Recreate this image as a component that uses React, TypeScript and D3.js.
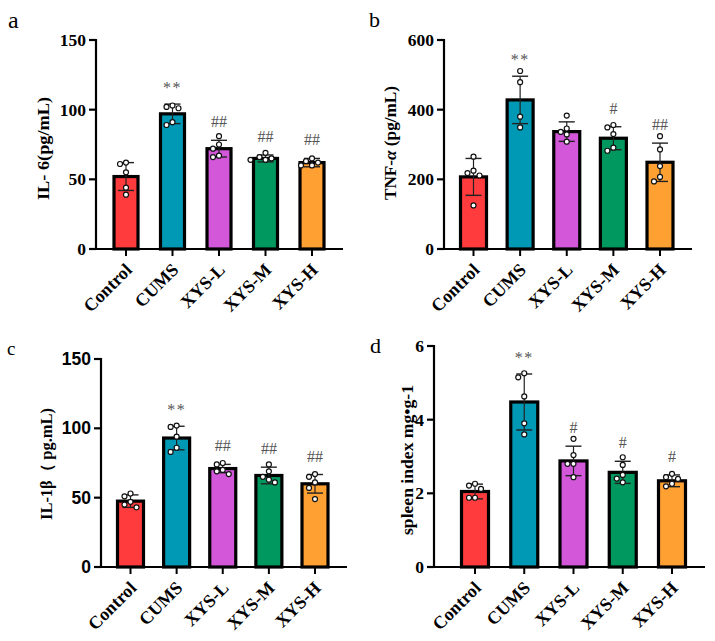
import React from "react";
import * as d3 from "d3";

const groups = ["Control", "CUMS", "XYS-L", "XYS-M", "XYS-H"];
const groupColors = ["#FF3B3D", "#0099B5", "#D357D9", "#00985F", "#FFA033"];

// a: IL-6 (pg/mL)
const il6Mean = [52, 97, 72, 65, 62];
const il6Sd = [10, 7, 6, 2.5, 3];
const il6Points = [
  [62, 61, 55, 44, 39],
  [103, 102, 101, 91, 89],
  [81, 75, 72, 67, 66],
  [69, 66, 65, 64, 64],
  [65, 63, 62, 60, 60],
];
const il6Marks = ["", "**", "##", "##", "##"];
const il6Ticks = [0, 50, 100, 150];

// b: TNF-α (pg/mL)
const tnfMean = [207, 428, 337, 318, 249];
const tnfSd = [53, 68, 28, 33, 55];
const tnfPoints = [
  [265, 225, 218, 211, 125],
  [511, 479, 380, 349],
  [383, 346, 336, 329, 308],
  [356, 349, 330, 291, 282],
  [324, 286, 238, 207, 194],
];
const tnfMarks = ["", "**", "", "#", "##"];
const tnfTicks = [0, 200, 400, 600];

// c: IL-1β (pg/mL)
const il1Mean = [47.5, 93, 71, 66, 60];
const il1Sd = [4.5, 8.5, 3, 6, 6.7];
const il1Points = [
  [53, 51, 47, 45, 43],
  [102, 101, 94, 86, 83],
  [75, 74, 70, 69, 67],
  [74, 69, 65, 63, 61],
  [67, 65, 61, 57, 49],
];
const il1Marks = ["", "**", "##", "##", "##"];
const il1Ticks = [0, 50, 100, 150];

// d: spleen index
const spleenMean = [2.05, 4.48, 2.88, 2.57, 2.34];
const spleenSd = [0.2, 0.76, 0.4, 0.3, 0.16];
const spleenPoints = [
  [2.26, 2.21, 2.12, 1.88, 1.88],
  [5.26, 5.15, 4.63, 3.9, 3.6],
  [3.48, 3.04, 2.8, 2.8, 2.44],
  [2.98, 2.77, 2.5, 2.4, 2.3],
  [2.53, 2.44, 2.39, 2.26, 2.19],
];
const spleenMarks = ["", "**", "#", "#", "#"];
const spleenTicks = [0, 2, 4, 6];

const SERIF = "'Liberation Serif', 'Times New Roman', serif";
const SANS = "'Liberation Sans', Arial, sans-serif";

// labelPos = start of the rotated axis title (its bottom end)
const panels = [
  {
    letter: "a", label: "IL- 6(pg/mL)", mean: il6Mean, sd: il6Sd, points: il6Points,
    marks: il6Marks, ticks: il6Ticks,
    axisX: 96, endX: 343, c0: 126, c1: 312, top: 40, bottom: 249, barW: 24,
    letterPos: [8, 28], letterSize: 24, labelPos: [43, 200], labelSize: 17.5, labelLen: 103, tickFont: SERIF,
  },
  {
    letter: "b", label: "TNF-α (pg/mL)", mean: tnfMean, sd: tnfSd, points: tnfPoints,
    marks: tnfMarks, ticks: tnfTicks,
    axisX: 444, endX: 692, c0: 473.5, c1: 660, top: 40, bottom: 249, barW: 26,
    letterPos: [369, 27], letterSize: 22, labelPos: [390, 200], labelSize: 17.5, labelLen: 114, tickFont: SERIF,
  },
  {
    letter: "c", label: "IL-1β（ pg.mL)", mean: il1Mean, sd: il1Sd, points: il1Points,
    marks: il1Marks, ticks: il1Ticks,
    axisX: 101, endX: 347, c0: 130.5, c1: 315, top: 359, bottom: 567, barW: 26,
    letterPos: [7, 355], letterSize: 19, labelPos: [46, 520], labelSize: 16, labelLen: 112, tickFont: SANS,
  },
  {
    letter: "d", label: "spleen index mg•g-1", mean: spleenMean, sd: spleenSd, points: spleenPoints,
    marks: spleenMarks, ticks: spleenTicks,
    axisX: 434, endX: 705, c0: 475, c1: 672, top: 346, bottom: 567, barW: 27,
    letterPos: [370, 353], letterSize: 22, labelPos: [407, 535], labelSize: 16.5, labelLen: 150, tickFont: SERIF,
  },
];

// spread points sideways so they don't overlap (simple swarm)
function swarm(vals: number[], y: (v: number) => number, r: number) {
  const order = vals.map((_, i) => i).sort((a, b) => vals[b] - vals[a]);
  const placed: { x: number; y: number }[] = [];
  const offs = vals.map(() => 0);
  const cands = [0, -6, 6, -11, 11, -15, 15];
  for (const i of order) {
    const py = y(vals[i]);
    for (const c of cands) {
      if (placed.every((q) => Math.hypot(q.x - c, q.y - py) >= 2 * r + 0.8)) {
        offs[i] = c;
        break;
      }
    }
    placed.push({ x: offs[i], y: py });
  }
  return offs;
}

function Panel({ p }: { p: (typeof panels)[number] }) {
  const y = d3
    .scaleLinear()
    .domain([0, p.ticks[p.ticks.length - 1]])
    .range([p.bottom, p.top]);
  const x = d3.scalePoint<string>().domain(groups).range([p.c0, p.c1]);
  const r = 2.5;
  const capW = 16;

  return (
    <g>
      <text x={p.letterPos[0]} y={p.letterPos[1]} fontFamily={SERIF} fontSize={p.letterSize}>
        {p.letter}
      </text>
      <text
        transform={`translate(${p.labelPos[0]},${p.labelPos[1]}) rotate(-90)`}
        textAnchor="start"
        dy="0.35em"
        fontFamily={SERIF}
        fontWeight="bold"
        fontSize={p.labelSize}
        textLength={p.labelLen}
        lengthAdjust="spacingAndGlyphs"
      >
        {p.letter === "b" ? (
          <>
            TNF-<tspan fontStyle="italic">α</tspan> (pg/mL)
          </>
        ) : (
          p.label
        )}
      </text>

      {groups.map((g, i) => {
        const cx = x(g)!;
        const m = p.mean[i];
        const s = p.sd[i];
        const offs = swarm(p.points[i], y, r);
        const hi = y(m + s);
        const lo = y(m - s);
        const star = p.marks[i].startsWith("*");
        return (
          <g key={g}>
            <rect
              x={cx - p.barW / 2}
              y={y(m)}
              width={p.barW}
              height={p.bottom - y(m)}
              fill={groupColors[i]}
              stroke="#000"
              strokeWidth={3.2}
            />
            <line x1={cx} x2={cx} y1={hi} y2={lo} stroke="#222" strokeWidth={1.2} />
            <line x1={cx - capW / 2} x2={cx + capW / 2} y1={hi} y2={hi} stroke="#222" strokeWidth={1.4} />
            <line x1={cx - capW / 2} x2={cx + capW / 2} y1={lo} y2={lo} stroke="#222" strokeWidth={1.4} />
            {p.points[i].map((v, j) => (
              <circle
                key={j}
                cx={cx + offs[j]}
                cy={y(v)}
                r={r}
                fill="#fff"
                stroke="#111"
                strokeWidth={1.2}
              />
            ))}
            {p.marks[i] && (
              <text
                x={cx}
                y={hi - (star ? 11 : 13)}
                textAnchor="middle"
                fontFamily={SERIF}
                fontSize={16}
                letterSpacing={star ? 1.5 : 0}
                fill="#555"
              >
                {p.marks[i]}
              </text>
            )}
            <line x1={cx} x2={cx} y1={p.bottom} y2={p.bottom + 7} stroke="#000" strokeWidth={2} />
            <text
              transform={`translate(${cx + 7},${p.bottom + 22}) rotate(-45)`}
              textAnchor="end"
              fontFamily={SERIF}
              fontWeight="bold"
              fontSize={18}
            >
              {g}
            </text>
          </g>
        );
      })}

      {/* axes */}
      <line x1={p.axisX} x2={p.axisX} y1={p.top - 1} y2={p.bottom + 1} stroke="#000" strokeWidth={2.2} />
      <line x1={p.axisX - 1} x2={p.endX} y1={p.bottom} y2={p.bottom} stroke="#000" strokeWidth={2.2} />
      {p.ticks.map((t) => (
        <g key={t}>
          <line x1={p.axisX - 7} x2={p.axisX} y1={y(t)} y2={y(t)} stroke="#000" strokeWidth={2.2} />
          <text
            x={p.axisX - 10}
            y={y(t)}
            dy="0.35em"
            textAnchor="end"
            fontFamily={p.tickFont}
            fontWeight="bold"
            fontSize={17.5}
          >
            {t}
          </text>
        </g>
      ))}
    </g>
  );
}

export default function App() {
  return (
    <>
      <style>{`body{margin:0}`}</style>
      <svg width={715} height={641} viewBox="0 0 715 641" style={{ display: "block", background: "#fff" }}>
        {panels.map((p) => (
          <Panel key={p.letter} p={p} />
        ))}
      </svg>
    </>
  );
}
